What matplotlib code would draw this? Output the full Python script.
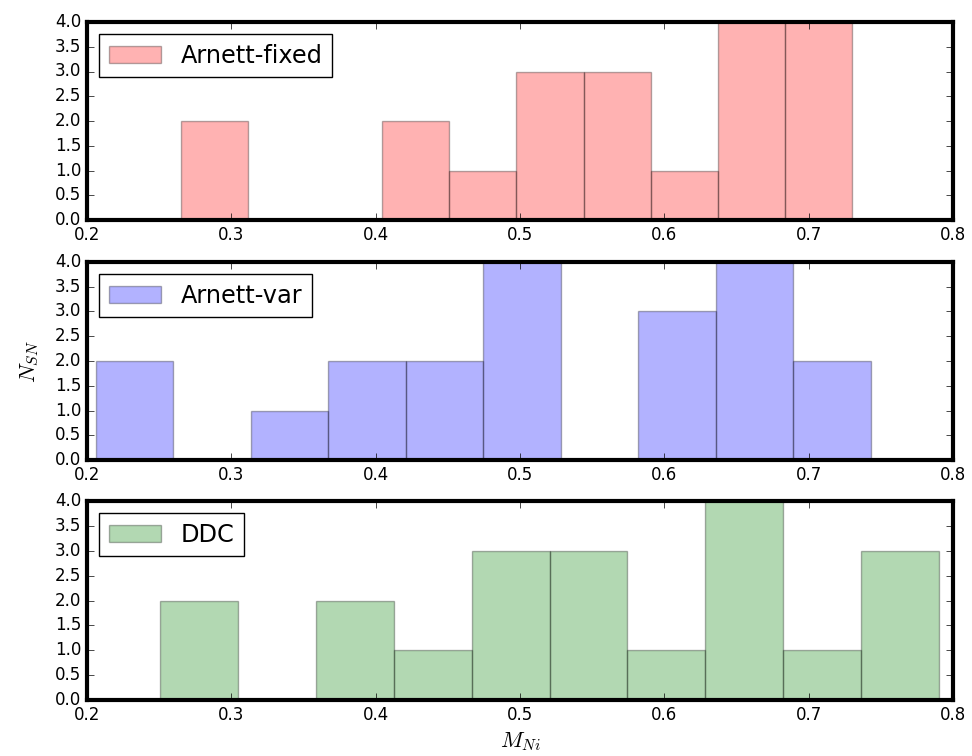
import numpy as np
import matplotlib
matplotlib.use("Agg")
import matplotlib.pyplot as plt

plt.style.use("classic")

# ---- data ----
labels = ["Arnett-fixed", "Arnett-var", "DDC"]
colors = ["r", "b", "g"]

edges_fixed = [0.2649, 0.3114, 0.3579, 0.4044, 0.4509, 0.4975,
               0.5440, 0.5905, 0.6370, 0.6835, 0.7300]
counts_fixed = [2, 0, 0, 2, 1, 3, 3, 1, 4, 4]

edges_var = [0.2060, 0.2597, 0.3134, 0.3671, 0.4208, 0.4745,
             0.5281, 0.5818, 0.6355, 0.6892, 0.7429]
counts_var = [2, 0, 1, 2, 2, 4, 0, 3, 4, 2]

edges_ddc = [0.2508, 0.3047, 0.3587, 0.4126, 0.4666, 0.5205,
             0.5744, 0.6284, 0.6823, 0.7363, 0.7902]
counts_ddc = [2, 0, 2, 1, 3, 3, 1, 4, 1, 3]

xticks = [0.2, 0.3, 0.4, 0.5, 0.6, 0.7, 0.8]
yticks = [0.0, 0.5, 1.0, 1.5, 2.0, 2.5, 3.0, 3.5, 4.0]

all_edges = [edges_fixed, edges_var, edges_ddc]
all_counts = [counts_fixed, counts_var, counts_ddc]

W, H = 972, 756
fig = plt.figure(figsize=(W / 100, H / 100), dpi=100, facecolor="white")

left, right = 87 / W, 953 / W
tops = [22, 262, 501]
bottoms = [220, 460, 700]

axes = []
for i in range(3):
    b = 1 - bottoms[i] / H
    t = 1 - tops[i] / H
    ax = fig.add_axes([left, b, right - left, t - b])
    axes.append(ax)
    e = np.array(all_edges[i])
    c = np.array(all_counts[i])
    ax.hist(e[:-1], bins=e, weights=c, color=colors[i], alpha=0.3,
            edgecolor=(0, 0, 0, 0.3), linewidth=1, label=labels[i])
    ax.set_xlim(0.2, 0.8)
    ax.set_ylim(0, 4)
    ax.set_xticks(xticks)
    ax.set_yticks(yticks)
    ax.set_xticklabels([f"{v:.1f}" for v in xticks])
    ax.set_yticklabels([f"{v:.1f}" for v in yticks])
    ax.tick_params(labelsize=12, direction="in", top=True, right=True, length=5)
    for s in ax.spines.values():
        s.set_linewidth(3)
    leg = ax.legend(loc="upper left", fontsize=17.28, handlelength=2.2)
    leg.get_frame().set_linewidth(1.0)

axes[1].set_ylabel(r"$N_{SN}$", fontsize=16)
axes[1].yaxis.set_label_coords(-0.053, 0.5)
axes[2].set_xlabel(r"$M_{Ni}$", fontsize=16)

fig.savefig("out.png", dpi=100, facecolor="white")
